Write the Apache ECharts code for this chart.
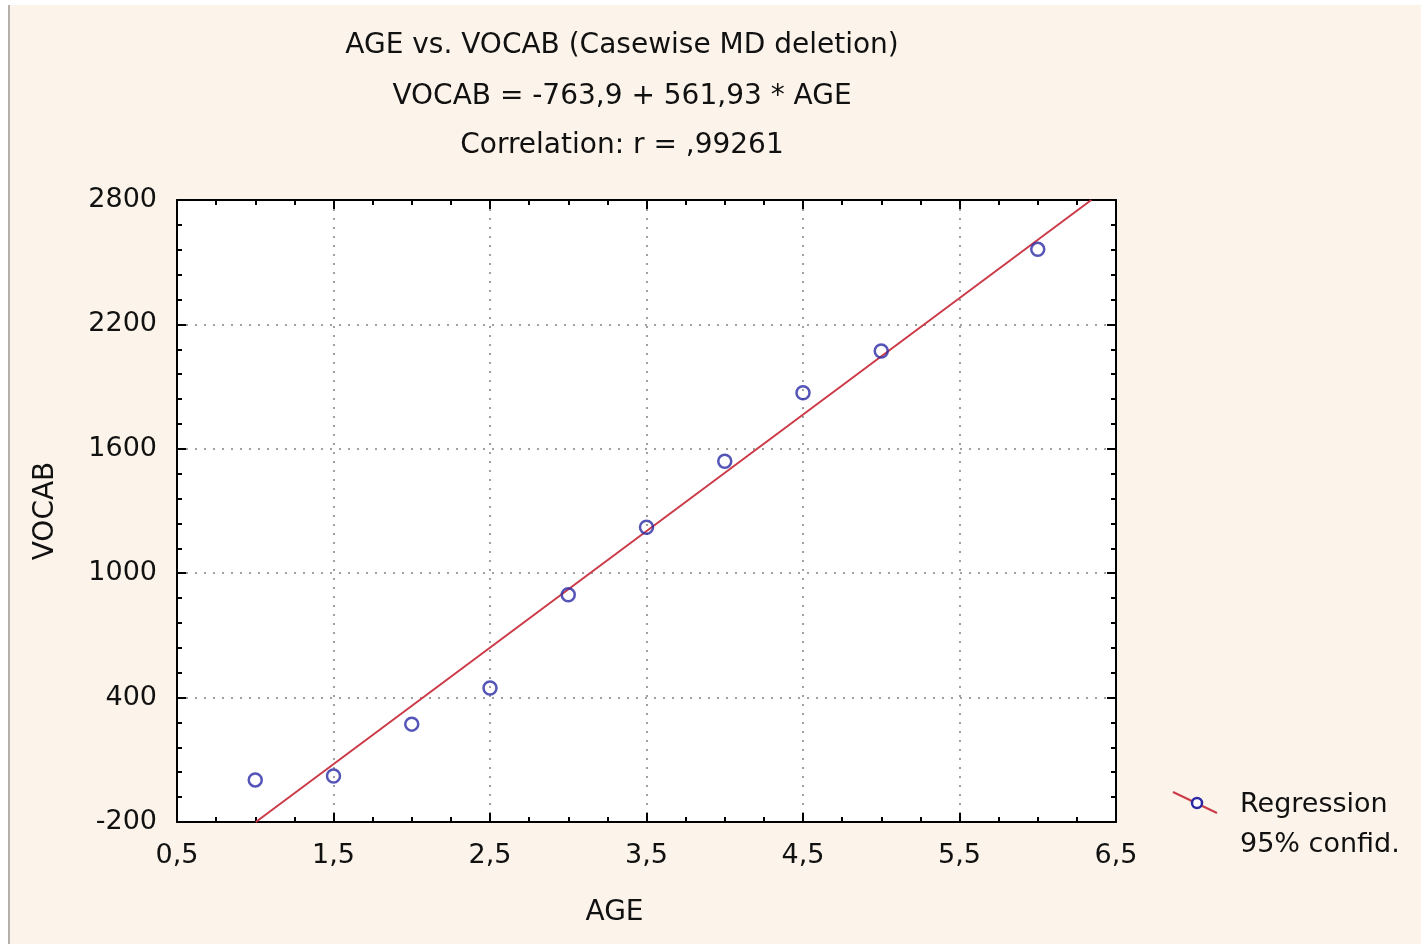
<!DOCTYPE html>
<html>
<head>
<meta charset="utf-8">
<script src="https://cdn.jsdelivr.net/npm/echarts@6/dist/echarts.min.js"></script>
<style>
html,body{margin:0;padding:0;background:#fff;}
#c{width:1421px;height:944px;}
</style>
</head>
<body>
<div id="c"></div>
<script>
// Data
var ages = [1, 1.5, 2, 2.5, 3, 3.5, 4, 4.5, 5, 6];
var vocab = [3, 22, 272, 446, 896, 1222, 1540, 1870, 2072, 2562];
// Regression line endpoints (VOCAB = -763,9 + 561,93 * AGE), clipped to the plot frame
var regX = [1.0035, 6.342];
var regY = [-200, 2800];
var titleLines = ['AGE vs. VOCAB (Casewise MD deletion)', 'VOCAB = -763,9 + 561,93 * AGE', 'Correlation: r = ,99261'];
var legendLines = ['Regression', '95% confid.'];
var xTicks = [0.5, 1.5, 2.5, 3.5, 4.5, 5.5, 6.5];
var yTicks = [-200, 400, 1000, 1600, 2200, 2800];

var FONT = '"DejaVu Sans", "Liberation Sans", Arial, sans-serif';
var fmtComma = function (v) { return String(v).replace('.', ','); };

var chart = echarts.init(document.getElementById('c'));
var G = {left: 177, top: 200, width: 939, height: 622};

function axisCommon(isX, showLabel) {
  return {
    axisLine: {show: true, onZero: false, lineStyle: {color: '#000', width: 2}},
    axisTick: {show: true, inside: true, length: 9, lineStyle: {color: '#000', width: 2}},
    minorTick: {show: true, splitNumber: isX ? 4 : 5, length: 5, lineStyle: {color: '#000', width: 2}},
    axisLabel: {show: showLabel, color: '#111', fontFamily: FONT, fontSize: 27, margin: showLabel ? 20 : 0,
      formatter: fmtComma},
    splitLine: {show: false}
  };
}

var x0 = Object.assign({type: 'value', min: 0.5, max: 6.5, interval: 1, position: 'bottom',
  name: 'AGE', nameLocation: 'middle', nameGap: 77,
  nameTextStyle: {color: '#111', fontFamily: FONT, fontSize: 28, padding: [0, 64, 0, 0]}}, axisCommon(true, true));
x0.splitLine = {show: true, lineStyle: {color: '#a0a0a0', type: [2, 7], width: 2}};
var x1 = Object.assign({type: 'value', min: 0.5, max: 6.5, interval: 1, position: 'top'}, axisCommon(true, false));

var y0 = Object.assign({type: 'value', min: -200, max: 2800, interval: 600, position: 'left',
  name: 'VOCAB', nameLocation: 'middle', nameGap: 117, nameRotate: 90,
  nameTextStyle: {color: '#111', fontFamily: FONT, fontSize: 28}}, axisCommon(false, true));
y0.splitLine = {show: true, lineStyle: {color: '#a0a0a0', type: [2, 7], width: 2}};
var y1 = Object.assign({type: 'value', min: -200, max: 2800, interval: 600, position: 'right'}, axisCommon(false, false));

var regData = regX.map(function (x, i) { return [x, regY[i]]; });
var ptData = ages.map(function (a, i) { return [a, vocab[i]]; });

chart.setOption({
  backgroundColor: '#fcf4ea',
  animation: false,
  title: titleLines.map(function (t, i) {
    return {text: t, left: 617, top: [27, 78, 127][i], textAlign: 'center',
      textStyle: {color: '#111', fontFamily: FONT, fontSize: 28, fontWeight: 'normal'}};
  }),
  grid: Object.assign({show: true, backgroundColor: '#fff', borderWidth: 0}, G),
  xAxis: [x0, x1],
  yAxis: [y0, y1],
  series: [
    {type: 'line', data: regData, showSymbol: false, symbol: 'none', clip: true,
      lineStyle: {color: '#cc3a48', width: 2}, z: 3},
    {type: 'scatter', data: ptData, symbol: 'circle', symbolSize: 13,
      itemStyle: {color: 'transparent', borderColor: '#2a2aa5', borderWidth: 2.5}, z: 4}
  ],
  graphic: [
    {type: 'rect', shape: {x: 0, y: 0, width: 1421, height: 5}, style: {fill: '#fff'}, silent: true},
    {type: 'rect', shape: {x: 0, y: 0, width: 8, height: 944}, style: {fill: '#fff'}, silent: true},
    {type: 'line', shape: {x1: 9, y1: 5, x2: 9, y2: 944}, style: {stroke: '#b5b0aa', lineWidth: 2}, silent: true},
    {type: 'line', shape: {x1: 1173, y1: 792, x2: 1217, y2: 813}, style: {stroke: '#cc3a48', lineWidth: 2}},
    {type: 'circle', shape: {cx: 1197, cy: 803, r: 5}, style: {fill: '#fff', stroke: '#2a2aa5', lineWidth: 2.5}},
    {type: 'text', x: 1240, y: 805, style: {text: legendLines[0], fill: '#111', font: '27px ' + FONT, textVerticalAlign: 'middle'}},
    {type: 'text', x: 1240, y: 845, style: {text: legendLines[1], fill: '#111', font: '27px ' + FONT, textVerticalAlign: 'middle'}}
  ]
});
</script>
</body>
</html>
